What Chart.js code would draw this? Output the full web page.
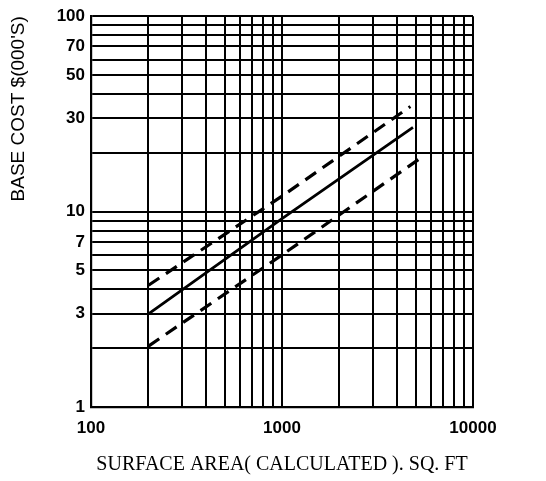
<!DOCTYPE html>
<html>
<head>
<meta charset="utf-8">
<script src="https://cdn.jsdelivr.net/npm/chart.js@4"></script>
<style>
  html, body { margin: 0; padding: 0; background: #fff; }
  canvas { display: block; }
</style>
</head>
<body>
<canvas id="myChart" width="546" height="481"></canvas>
<script>
// surface area (sq ft) and base cost ($000's)
const areaUpper = [200, 1000, 4700];
const costUpper = [4.2, 12, 34.5];
const areaMid = [200, 1000, 4850];
const costMid = [3.0, 9.2, 27];
const areaLower = [200, 1000, 5400];
const costLower = [2.05, 6, 19];

const xLabels = [100, 1000, 10000];
const yLabels = [1, 3, 5, 7, 10, 30, 50, 70, 100];

// log paper grid: 1..9 in every decade
function logGrid(lo, hi) {
  const out = [];
  for (let d = lo; d < hi; d *= 10) {
    for (let m = 1; m < 10; m++) out.push(d * m);
  }
  out.push(hi);
  return out;
}
const xGrid = logGrid(100, 10000);
const yGrid = logGrid(1, 100);

const pts = (xs, ys) => xs.map((x, i) => ({ x: x, y: ys[i] }));

const tickFont = { family: 'Liberation Sans', size: 17, weight: 'bold' };

new Chart(document.getElementById('myChart').getContext('2d'), {
  type: 'line',
  data: {
    datasets: [
      { label: 'upper', data: pts(areaUpper, costUpper), borderColor: '#000', borderWidth: 3.2, borderDash: [13, 8], pointRadius: 0 },
      { label: 'mid', data: pts(areaMid, costMid), borderColor: '#000', borderWidth: 2.8, pointRadius: 0 },
      { label: 'lower', data: pts(areaLower, costLower), borderColor: '#000', borderWidth: 3.2, borderDash: [13, 8], pointRadius: 0 }
    ]
  },
  options: {
    responsive: false,
    animation: false,
    layout: { padding: { top: 15, right: 73, bottom: 0, left: 0 } },
    plugins: { legend: { display: false }, tooltip: { enabled: false } },
    scales: {
      x: {
        type: 'logarithmic',
        min: 100,
        max: 10000,
        afterBuildTicks: s => { s.ticks = xGrid.map(v => ({ value: v })); },
        afterFit: s => { s.height = 74; },
        grid: { color: '#000', lineWidth: 2, drawTicks: false },
        border: { color: '#000', width: 2.2 },
        ticks: {
          autoSkip: false,
          maxRotation: 0,
          padding: 11,
          color: '#000',
          font: tickFont,
          callback: v => xLabels.includes(v) ? String(v) : ''
        },
        title: {
          display: true,
          text: 'SURFACE AREA( CALCULATED ). SQ. FT',
          color: '#000',
          font: { family: 'Liberation Serif', size: 20 },
          padding: { top: 0, bottom: 4 }
        }
      },
      y: {
        type: 'logarithmic',
        min: 1,
        max: 100,
        afterBuildTicks: s => { s.ticks = yGrid.map(v => ({ value: v })); },
        afterFit: s => { s.width = 91; },
        grid: { color: '#000', lineWidth: 2, drawTicks: false },
        border: { color: '#000', width: 2.2 },
        ticks: {
          autoSkip: false,
          padding: 6,
          color: '#000',
          font: tickFont,
          callback: v => yLabels.includes(v) ? String(v) : ''
        },
        title: {
          display: true,
          text: "BASE COST $(000'S)",
          align: 'end',
          color: '#000',
          font: { family: 'Liberation Sans', size: 19 },
          padding: { top: 7, bottom: 4 }
        }
      }
    }
  }
});
</script>
</body>
</html>
